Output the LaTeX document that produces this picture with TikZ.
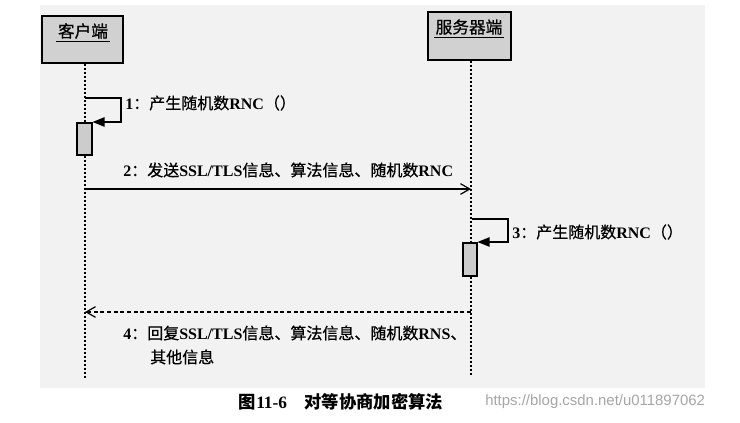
\documentclass[tikz,border=0pt]{standalone}
\usepackage{fontspec}
\setmainfont{Liberation Serif}
\newfontfamily\cjk[FakeBold=0.6]{Noto Sans CJK SC}
\newfontfamily\cjkb{Noto Sans CJK SC}
\newfontfamily\wmfont{Liberation Sans}
\usetikzlibrary{arrows.meta}
\newcommand{\C}[1]{{\cjk\mdseries #1}}
\newcommand{\CB}[1]{{\cjkb\bfseries #1}}
\begin{document}
\begin{tikzpicture}[x=0.75pt,y=-0.75pt,
  headbox/.style={draw=black, line width=1.1pt, fill=black!18, inner sep=0},
  headtext/.style={font=\fontsize{12.5}{14}\selectfont, inner sep=1pt},
  lifeline/.style={line width=1pt, dash pattern=on 1.6pt off 1.4pt},
  actbox/.style={draw=black, line width=0.8pt, fill=black!20, inner sep=0},
  selfmsg/.style={line width=0.9pt, -{Triangle[length=9pt,width=7pt]}},
  callmsg/.style={line width=0.9pt, -{Straight Barb[length=7pt,width=8pt]}},
  retmsg/.style={callmsg, dash pattern=on 3pt off 2pt},
  lbl/.style={anchor=west, inner sep=0, font=\fontsize{12}{14}\selectfont\bfseries}]
\useasboundingbox (0,0) rectangle (740,422);
\fill[white] (0,0) rectangle (740,422);
\fill[black!5] (40,5) rectangle (705,388);

% heads
\node[headbox, minimum width=60.75pt, minimum height=35.25pt] (cbox) at (82.5,39.5) {};
\node[headbox, minimum width=62.25pt, minimum height=36pt] (sbox) at (469.5,36) {};
\node[headtext] (ctext) at (83,31) {\C{客户端}};
\node[headtext] (stext) at (469,27) {\C{服务器端}};
\draw[line width=1.1pt] ([yshift=-1pt]ctext.south west) -- ([yshift=-1pt]ctext.south east);
\draw[line width=1.1pt] ([yshift=-1pt]stext.south west) -- ([yshift=-1pt]stext.south east);

% lifelines
\coordinate (cEnd) at (85,378);
\coordinate (sEnd) at (471,375);
\draw[lifeline] (cbox.south -| cEnd) -- (cEnd);
\draw[lifeline] (sbox.south -| sEnd) -- (sEnd);

% activations
\node[actbox, minimum width=11.25pt, minimum height=24pt] (act1) at (84.5,139) {};
\node[actbox, minimum width=10.5pt, minimum height=24.75pt] (act3) at (470,259.5) {};

% message 1
\coordinate (s1a) at (85,98);
\coordinate (s1b) at (121,122);
\draw[selfmsg] (s1a) -| (s1b) -- (s1b -| act1.east);
\node[lbl] (m1) at (125,103) {1\C{：产生随机数}RNC\C{（）}};

% message 2
\coordinate (c2) at (85,189);
\coordinate (s2) at (471,189);
\draw[callmsg] (c2) -- (s2);
\node[lbl] (m2) at (123,170) {2\C{：发送}SSL/TLS\C{信息、算法信息、随机数}RNC};

% message 3
\coordinate (s3a) at (472,219);
\coordinate (s3b) at (508,242);
\draw[selfmsg] (s3a) -| (s3b) -- (s3b -| act3.east);
\node[lbl] (m3) at (512,232) {3\C{：产生随机数}RNC\C{（）}};

% message 4
\coordinate (s4) at (471,312);
\coordinate (c4) at (85,312);
\draw[retmsg] (s4) -- (c4);
\node[lbl] (m4a) at (123,333) {4\C{：回复}SSL/TLS\C{信息、算法信息、随机数}RNS\C{、}};
\node[lbl] (m4b) at (150,357) {\C{其他信息}};

% caption
\node[inner sep=0, font=\fontsize{13}{15}\selectfont\bfseries] (cap) at (341,402) {\CB{图}11-6\quad\CB{对等协商加密算法}};
\node[inner sep=0, anchor=west, text=black!35, font=\wmfont\fontsize{11.2}{13}\selectfont] (wm) at (485,402) {https://blog.csdn.net/u011897062};
\end{tikzpicture}
\end{document}
